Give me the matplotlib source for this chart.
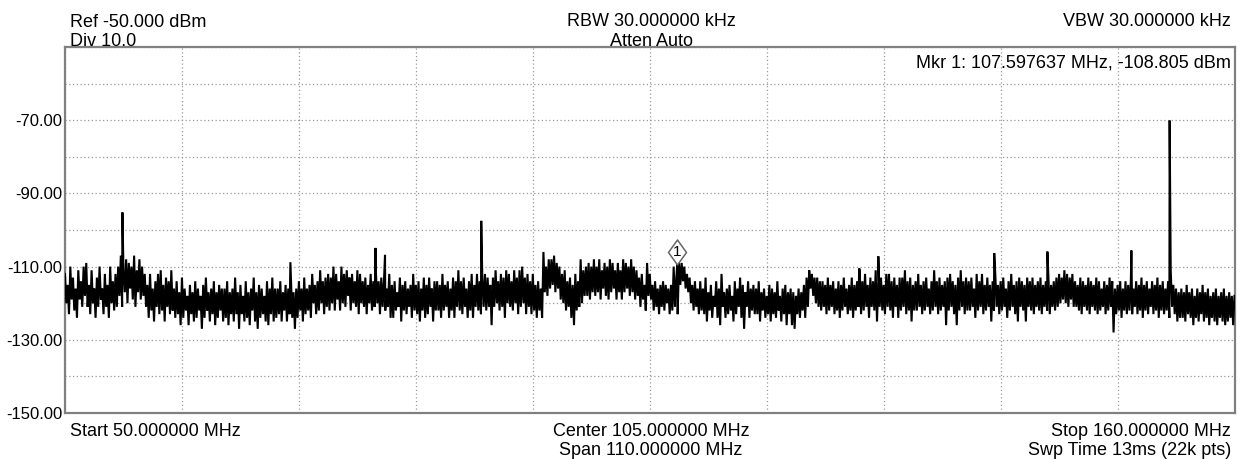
import numpy as np
import matplotlib
matplotlib.use("Agg")
import matplotlib.pyplot as plt
from matplotlib.path import Path
from matplotlib import transforms

plt.rcParams['font.family'] = ['Liberation Sans', 'DejaVu Sans']

# ---------------- data ----------------
start_mhz = 50.0
stop_mhz = 160.0
bin_mhz = 0.25
ref_level = -50.0
div_db = 10.0

# upper edge of the displayed trace (dBm) in each 0.25 MHz column, 50..160 MHz
trace_hi = [
    -112, -115, -110, -113, -116, -111, -114, -110, -109, -115, -111, -116, -113, -110, -116, -112, -115, -110, -114, -112,
    -110, -107, -111, -108, -109, -110, -107, -111, -108, -110, -112, -115, -112, -116, -114, -112, -111, -115, -113, -114,
    -111, -116, -114, -117, -113, -116, -118, -115, -117, -114, -116, -118, -115, -113, -117, -116, -114, -117, -115, -116,
    -116, -114, -117, -116, -113, -117, -115, -118, -114, -117, -116, -113, -117, -115, -116, -118, -114, -116, -113, -116,
    -116, -114, -117, -115, -116, -113, -117, -116, -114, -116, -113, -116, -115, -112, -115, -114, -111, -114, -113, -112,
    -113, -110, -112, -114, -110, -112, -111, -113, -112, -114, -111, -112, -114, -113, -115, -112, -114, -112, -114, -113,
    -114, -116, -112, -115, -114, -117, -113, -115, -114, -116, -115, -112, -115, -114, -116, -113, -115, -113, -116, -114,
    -114, -115, -112, -115, -114, -116, -113, -114, -111, -114, -113, -116, -114, -112, -115, -112, -114, -113, -112, -113,
    -115, -113, -111, -114, -112, -113, -111, -112, -114, -111, -113, -111, -110, -113, -112, -114, -112, -115, -114, -116,
    -106, -110, -108, -108, -107, -109, -110, -112, -111, -114, -113, -115, -112, -114, -108, -111, -110, -109, -110, -108,
    -110, -108, -111, -109, -110, -108, -109, -111, -109, -111, -108, -109, -110, -108, -110, -111, -113, -112, -115, -109,
    -112, -115, -114, -116, -115, -114, -115, -116, -115, -110, -113, -109, -109, -110, -112, -113, -115, -114, -116, -114,
    -116, -113, -117, -115, -118, -114, -116, -112, -117, -116, -115, -118, -114, -116, -113, -115, -117, -114, -116, -115,
    -116, -114, -117, -116, -118, -115, -116, -117, -114, -118, -116, -115, -117, -116, -117, -118, -116, -117, -115, -113,
    -111, -112, -113, -113, -114, -114, -115, -113, -115, -114, -116, -114, -115, -113, -116, -115, -113, -115, -114, -111,
    -114, -112, -115, -113, -114, -111, -114, -113, -115, -112, -112, -114, -113, -115, -113, -113, -111, -114, -113, -115,
    -114, -112, -115, -114, -113, -116, -114, -111, -114, -113, -115, -114, -113, -112, -114, -115, -113, -111, -114, -113,
    -114, -113, -116, -112, -114, -112, -115, -113, -115, -114, -112, -115, -114, -113, -116, -114, -112, -115, -114, -113,
    -114, -115, -113, -114, -113, -115, -114, -113, -115, -114, -113, -115, -114, -113, -112, -113, -111, -112, -113, -112,
    -114, -115, -113, -114, -115, -113, -114, -115, -113, -114, -116, -114, -115, -113, -114, -116, -115, -114, -116, -114,
    -115, -114, -116, -114, -115, -113, -115, -114, -116, -114, -115, -113, -115, -114, -116, -114, -111, -115, -116, -117,
    -116, -117, -115, -117, -116, -118, -116, -117, -115, -117, -116, -118, -117, -116, -118, -117, -116, -118, -117, -118,
    -118,
]

# lower edge of the displayed trace (dBm) in each 0.25 MHz column
trace_lo = [
    -120, -123, -119, -122, -124, -119, -121, -118, -121, -123, -120, -124, -121, -119, -123, -121, -124, -120, -122, -121,
    -118, -121, -117, -120, -116, -119, -121, -117, -119, -118, -121, -124, -122, -125, -121, -123, -122, -125, -121, -123,
    -122, -124, -123, -126, -124, -122, -126, -123, -125, -124, -122, -127, -124, -122, -125, -123, -126, -124, -122, -125,
    -124, -126, -123, -125, -123, -127, -123, -125, -124, -126, -122, -125, -127, -124, -123, -125, -126, -123, -125, -124,
    -123, -125, -122, -125, -123, -124, -127, -124, -122, -125, -123, -122, -124, -120, -123, -122, -120, -123, -121, -122,
    -120, -122, -119, -122, -120, -121, -118, -122, -120, -121, -123, -120, -121, -123, -120, -122, -121, -120, -123, -121,
    -122, -121, -124, -124, -122, -121, -125, -122, -123, -121, -124, -122, -123, -125, -122, -124, -123, -121, -125, -122,
    -122, -124, -122, -121, -124, -122, -124, -121, -122, -123, -121, -124, -122, -124, -121, -122, -123, -121, -122, -121,
    -126, -121, -120, -122, -121, -124, -120, -121, -122, -120, -123, -121, -120, -123, -121, -123, -122, -124, -122, -124,
    -117, -118, -116, -115, -117, -116, -119, -120, -122, -121, -124, -126, -122, -121, -120, -118, -118, -119, -117, -118,
    -117, -119, -116, -118, -119, -117, -116, -119, -117, -119, -117, -116, -118, -117, -119, -118, -121, -119, -122, -118,
    -119, -122, -121, -123, -121, -122, -120, -123, -122, -121, -123, -115, -114, -116, -117, -120, -122, -121, -123, -122,
    -123, -125, -122, -124, -121, -124, -126, -121, -124, -123, -122, -125, -123, -121, -124, -127, -121, -124, -122, -123,
    -123, -125, -122, -124, -123, -125, -123, -124, -122, -125, -123, -126, -123, -126, -127, -123, -124, -122, -124, -121,
    -116, -118, -120, -121, -122, -121, -123, -122, -121, -123, -122, -124, -122, -121, -123, -122, -124, -122, -121, -123,
    -122, -121, -124, -121, -122, -125, -121, -122, -123, -121, -122, -124, -121, -124, -122, -121, -123, -122, -125, -122,
    -122, -121, -123, -122, -121, -123, -122, -121, -123, -122, -121, -126, -122, -121, -123, -126, -122, -121, -123, -122,
    -122, -121, -124, -122, -121, -123, -122, -121, -125, -122, -121, -123, -122, -121, -124, -122, -121, -123, -125, -121,
    -122, -125, -121, -122, -123, -121, -122, -123, -121, -122, -123, -121, -122, -121, -120, -119, -120, -121, -119, -121,
    -121, -122, -123, -121, -122, -123, -121, -122, -123, -122, -121, -123, -122, -121, -128, -123, -122, -124, -122, -123,
    -122, -123, -121, -123, -122, -124, -122, -123, -121, -123, -122, -124, -122, -123, -122, -124, -121, -123, -125, -124,
    -124, -125, -123, -124, -126, -124, -125, -123, -125, -124, -126, -124, -125, -126, -124, -125, -126, -125, -124, -126,
    -125,
]

# narrow spurs (MHz, dBm)
spur_mhz = [55.4, 71.2, 79.2, 80.1, 89.15, 107.6, 124.7, 126.5, 137.4, 142.4, 150.3, 153.9]
spur_db = [-95.2, -108.8, -104.9, -106.8, -97.5, -108.8, -110.5, -107.2, -106.3, -105.9, -105.6, -70.1]

# marker
mkr_mhz = 107.597637
mkr_db = -108.805

# ---------------- figure ----------------
W, H = 1244, 459
fig = plt.figure(figsize=(W / 100, H / 100), dpi=100)
L, R, T, B = 65, 1234.5, 47, 413
ax = fig.add_axes([L / W, 1 - B / H, (R - L) / W, (B - T) / H])

# trace: each column swept from its upper to its lower edge, spurs merged in
n = len(trace_hi)
col_f = start_mhz + bin_mhz * np.arange(n)
f_pts = np.concatenate([col_f, col_f + bin_mhz / 2, np.array(spur_mhz)])
d_pts = np.concatenate([np.array(trace_hi, float), np.array(trace_lo, float), np.array(spur_db)])
keep = f_pts <= stop_mhz
f_pts, d_pts = f_pts[keep], d_pts[keep]
order = np.argsort(f_pts, kind="stable")
ax.plot(f_pts[order], d_pts[order], color="black", lw=1.5, solid_joinstyle="miter", zorder=3)

bottom = ref_level - 10 * div_db
ax.set_xlim(start_mhz, stop_mhz)
ax.set_ylim(bottom, ref_level)

xt = np.linspace(start_mhz, stop_mhz, 11)
yt = np.arange(bottom, ref_level + 0.1, div_db)
ax.set_xticks(xt)
ax.set_yticks(yt)
ax.set_xticklabels([])
ax.set_yticklabels([("%.2f" % v) if (int(round(v)) - int(bottom)) % 20 == 0 and v < ref_level else "" for v in yt])
ax.tick_params(length=0, labelsize=12, pad=2)
ax.grid(True, color="#9a9a9a", linestyle=(0, (1, 2)), lw=0.9, zorder=1)
for s in ax.spines.values():
    s.set_color("#808080")
    s.set_linewidth(1.6)

# marker diamond
dia = Path([(0, 1), (0.72, 0), (0, -1), (-0.72, 0), (0, 1)],
           [Path.MOVETO, Path.LINETO, Path.LINETO, Path.LINETO, Path.CLOSEPOLY])
off = transforms.offset_copy(ax.transData, fig=fig, x=0, y=7.6, units="points")
ax.plot([mkr_mhz], [mkr_db], marker=dia, markersize=18, markerfacecolor="white",
        markeredgecolor="#666666", markeredgewidth=1.1, transform=off, zorder=5)
ax.text(mkr_mhz, mkr_db, "1", transform=off, ha="center", va="center", fontsize=11, zorder=6)

fs = 13
def ftxt(x, y, s, ha):
    fig.text(x / W, 1 - y / H, s, ha=ha, va="baseline", fontsize=fs)

ftxt(70, 27, "Ref %.3f dBm" % ref_level, "left")
ftxt(70, 46, "Div %.1f" % div_db, "left")
ftxt(651, 26, "RBW 30.000000 kHz", "center")
ftxt(651, 46, "Atten Auto", "center")
ftxt(1231, 26, "VBW 30.000000 kHz", "right")
ftxt(1231, 68, "Mkr 1: %.6f MHz, %.3f dBm" % (mkr_mhz, mkr_db), "right")
ftxt(70, 436, "Start %.6f MHz" % start_mhz, "left")
ftxt(651, 436, "Center %.6f MHz" % ((start_mhz + stop_mhz) / 2), "center")
ftxt(651, 455, "Span %.6f MHz" % (stop_mhz - start_mhz), "center")
ftxt(1231, 436, "Stop %.6f MHz" % stop_mhz, "right")
ftxt(1231, 455, "Swp Time 13ms (22k pts)", "right")

fig.savefig("out.png", dpi=100, facecolor="white")
